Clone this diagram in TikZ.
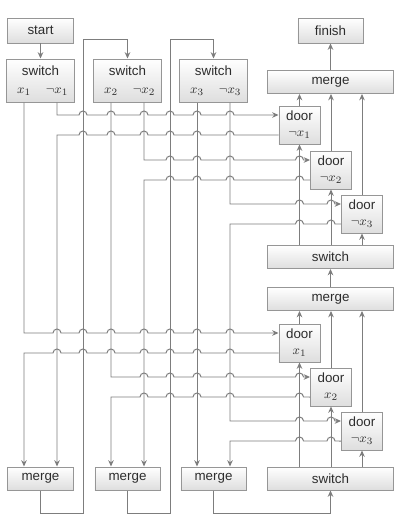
\documentclass[tikz,border=0pt]{standalone}
\usepackage{amsmath,amssymb}
\usepackage{fontspec}
\setmainfont{Liberation Sans}
\usetikzlibrary{arrows.meta}

\definecolor{wiregray}{RGB}{125,125,125}
\definecolor{boxedge}{RGB}{150,150,150}
\definecolor{boxshade}{RGB}{222,222,222}
\definecolor{labelgray}{RGB}{45,45,45}

% small hops over crossing wires (left to right / right to left)
\newcommand{\hopsR}[2]{\foreach \hx in {#1} {-- (\hx-4,#2) arc[start angle=180, end angle=0, radius=0.1cm]}}
\newcommand{\hopsL}[2]{\foreach \hx in {#1} {-- (\hx+4,#2) arc[start angle=0, end angle=180, radius=0.1cm]}}

\begin{document}
\begin{tikzpicture}[x=0.025cm, y=-0.025cm, >={Stealth[length=4.5pt,width=4pt]},
    wire/.style={draw=wiregray, line width=0.7pt},
    gbox/.style={draw=boxedge, line width=0.7pt, top color=white, bottom color=boxshade,
        text=labelgray, font=\fontsize{9.5}{11.5}\selectfont, align=center, inner sep=1pt},
    smallbox/.style={gbox, minimum width=1.625cm},
    widebox/.style={gbox, minimum width=3.125cm, minimum height=0.575cm},
    doorbox/.style={gbox, minimum width=1.025cm, minimum height=0.95cm}]

    \useasboundingbox (0,0) rectangle (401,520);

    % Define nodes
    \node (start) [smallbox, minimum height=0.625cm] at (40.5,30.5) {start};
    \node (sw1) [smallbox, minimum height=1.075cm] at (40.5,80.5) {switch\\[1pt]\makebox[0.825cm]{$x_1$}\makebox[0.825cm]{$\neg x_1$}};
    \node (sw2) [smallbox, minimum height=1.075cm] at (127.5,80.5) {switch\\[1pt]\makebox[0.825cm]{$x_2$}\makebox[0.825cm]{$\neg x_2$}};
    \node (sw3) [smallbox, minimum height=1.075cm] at (213.5,80.5) {switch\\[1pt]\makebox[0.825cm]{$x_3$}\makebox[0.825cm]{$\neg x_3$}};
    \node (mg1) [smallbox, minimum height=0.575cm] at (40.5,478.5) {merge};
    \node (mg2) [smallbox, minimum height=0.575cm] at (127.5,478.5) {merge};
    \node (mg3) [smallbox, minimum height=0.575cm] at (213.5,478.5) {merge};

    \node (finish) [smallbox, minimum height=0.625cm] at (330.5,30.5) {finish};
    \node (mgTop) [widebox] at (330.5,82) {merge};
    \node (dN1) [doorbox] at (299.5,125) {door\\$\neg x_1$};
    \node (dN2) [doorbox] at (331,170) {door\\$\neg x_2$};
    \node (dN3) [doorbox] at (362,214) {door\\$\neg x_3$};
    \node (swMid) [widebox] at (330.5,257) {switch};
    \node (mgMid) [widebox] at (330.5,299) {merge};
    \node (dX1) [doorbox] at (299.5,343) {door\\$x_1$};
    \node (dX2) [doorbox] at (331,387) {door\\$x_2$};
    \node (dB3) [doorbox] at (362,431) {door\\$\neg x_3$};
    \node (swBot) [widebox] at (330.5,478.5) {switch};

    % Variable chain on the left
    \draw[wire,->] (start) -- (sw1);
    \draw[wire,->] (mg1.south) -- ++(0,23) -| (83,39) -| (sw2.north);
    \draw[wire,->] (mg2.south) -- ++(0,23) -| (170,39) -| (sw3.north);
    \draw[wire,->] (mg3.south) -- ++(0,23) -| (swBot.south);

    % Wires from the switches to the doors and back to the merges
    \draw[wire,->] ([xshift=-0.4125cm]sw1.south) -- (24,333) \hopsR{57,83,111,144,170,197,230}{333} -- ([yshift=0.25cm]dX1.west);
    \draw[wire,<-] ([xshift=-0.4125cm]mg1.north) -- (24,353) \hopsR{57,83,111,144,170,197,230}{353} -- ([yshift=-0.25cm]dX1.west);
    \draw[wire,->] ([xshift=0.4125cm]sw1.south) -- (57,115) \hopsR{83,111,144,170,197,230}{115} -- ([yshift=0.25cm]dN1.west);
    \draw[wire,<-] ([xshift=0.4125cm]mg1.north) -- (57,135) \hopsR{83,111,144,170,197,230}{135} -- ([yshift=-0.25cm]dN1.west);

    \draw[wire,->] ([xshift=-0.4125cm]sw2.south) -- (111,377) \hopsR{144,170,197,230,299.5}{377} -- ([yshift=0.25cm]dX2.west);
    \draw[wire,<-] ([xshift=-0.4125cm]mg2.north) -- (111,397) \hopsR{144,170,197,230,299.5}{397} -- ([yshift=-0.25cm]dX2.west);
    \draw[wire,->] ([xshift=0.4125cm]sw2.south) -- (144,160) \hopsR{170,197,230,299.5}{160} -- ([yshift=0.25cm]dN2.west);
    \draw[wire,<-] ([xshift=0.4125cm]mg2.north) -- (144,180) \hopsR{170,197,230,299.5}{180} -- ([yshift=-0.25cm]dN2.west);

    \draw[wire,->] ([xshift=-0.4125cm]sw3.south) -- ([xshift=-0.4125cm]mg3.north);
    \draw[wire,->] ([xshift=0.4125cm]sw3.south) -- (230,204) \hopsR{299.5,331}{204} -- ([yshift=0.25cm]dN3.west);
    \draw[wire,->] ([yshift=-0.25cm]dN3.west) \hopsL{331,299.5}{224} -- (230,224) -- (230,421) \hopsR{299.5,331}{421} -- ([yshift=0.25cm]dB3.west);
    \draw[wire,<-] ([xshift=0.4125cm]mg3.north) -- (230,441) \hopsR{299.5,331}{441} -- ([yshift=-0.25cm]dB3.west);

    % Right column
    \draw[wire,->] (mgTop) -- (finish);
    \draw[wire,->] (dN1.north) -- (dN1.north |- mgTop.south);
    \draw[wire,->] (dN2.north) -- (dN2.north |- mgTop.south);
    \draw[wire,->] (dN3.north) -- (dN3.north |- mgTop.south);
    \draw[wire,->] (swMid.north -| dN1) -- (dN1.south);
    \draw[wire,->] (swMid.north -| dN2) -- (dN2.south);
    \draw[wire,->] (swMid.north -| dN3) -- (dN3.south);
    \draw[wire,->] (mgMid) -- (swMid);
    \draw[wire,->] (dX1.north) -- (dX1.north |- mgMid.south);
    \draw[wire,->] (dX2.north) -- (dX2.north |- mgMid.south);
    \draw[wire,->] (dB3.north) -- (dB3.north |- mgMid.south);
    \draw[wire,->] (swBot.north -| dX1) -- (dX1.south);
    \draw[wire,->] (swBot.north -| dX2) -- (dX2.south);
    \draw[wire,->] (swBot.north -| dB3) -- (dB3.south);

\end{tikzpicture}
\end{document}
